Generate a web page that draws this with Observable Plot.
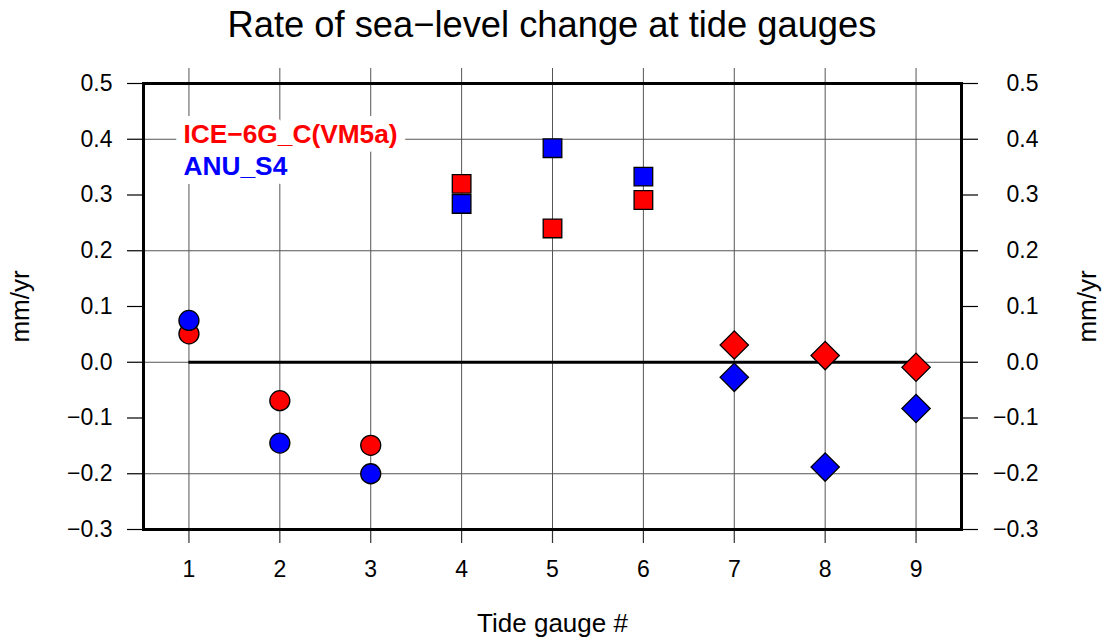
<!DOCTYPE html>
<html><head><meta charset="utf-8">
<script src="https://cdn.jsdelivr.net/npm/d3@7"></script>
<script src="https://cdn.jsdelivr.net/npm/@observablehq/plot@0.6"></script>
<style>
body{margin:0;background:#fff;font-family:"Liberation Sans",Arial,sans-serif;}
#title{height:50px;line-height:50px;text-align:center;font-size:36.3px;width:1104px;color:#000;}
</style></head><body>
<div id="title">Rate of sea−level change at tide gauges</div>
<div id="chart"></div>
<script>
const gauges = [1, 2, 3, 4, 5, 6, 7, 8, 9];
const shapes = ["circle", "circle", "circle", "square", "square", "square", "diamond", "diamond", "diamond"];
const ice6g = [0.051, -0.069, -0.149, 0.32, 0.24, 0.291, 0.031, 0.012, -0.009];
const anuS4 = [0.075, -0.145, -0.2, 0.284, 0.384, 0.333, -0.027, -0.188, -0.083];
const seriesNames = ["ICE−6G_C(VM5a)", "ANU_S4"];
const seriesColors = ["#ff0000", "#0000ff"];
const yTicks = [0.5, 0.4, 0.3, 0.2, 0.1, 0, -0.1, -0.2, -0.3];
const yGrid = [0.4, 0.2, 0, -0.2];
const xLabel = "Tide gauge #";
const yLabel = "mm/yr";

const seriesValues = [ice6g, anuS4];
const rows = seriesValues.flatMap((vals, s) =>
  gauges.map((g, i) => ({gauge: g, value: vals[i], shape: shapes[i], series: s})));

const shapeStyle = {
  circle: {symbol: "circle", r: 10, rotate: 0},
  square: {symbol: "square", r: 10.5, rotate: 0},
  diamond: {symbol: "square", r: 11.3, rotate: 45}
};

const fmt = d3.format(".1f");

const dotMarks = [0, 1].flatMap(s => Object.keys(shapeStyle).map(sh =>
  Plot.dot(rows.filter(d => d.series === s && d.shape === sh), {
    x: "gauge", y: "value",
    symbol: shapeStyle[sh].symbol, r: shapeStyle[sh].r, rotate: shapeStyle[sh].rotate,
    fill: seriesColors[s], stroke: "black", strokeWidth: 1.3
  })));

const chart = Plot.plot({
  width: 1104, height: 592,
  marginTop: 33, marginBottom: 113, marginLeft: 143, marginRight: 143,
  style: {fontFamily: "Liberation Sans, Arial, sans-serif", fontSize: "23px", background: "white", color: "black"},
  x: {domain: [0.5, 9.5], axis: null},
  y: {domain: [-0.3, 0.5], axis: null},
  marks: [
    Plot.ruleY(yGrid, {stroke: "#555", strokeWidth: 1}),
    Plot.ruleX(gauges, {stroke: "#555", strokeWidth: 1}),
    Plot.ruleY([0], {x1: d3.min(gauges), x2: d3.max(gauges), stroke: "black", strokeWidth: 3.2}),
    Plot.axisY(yTicks, {anchor: "left", tickSize: 16, tickPadding: 15, tickFormat: fmt, fontSize: 23, label: null, stroke: "black", strokeWidth: 1.2}),
    Plot.axisY(yTicks, {anchor: "right", tickSize: 16, tickPadding: 61, textAnchor: "end", tickFormat: fmt, fontSize: 23, label: null, stroke: "black", strokeWidth: 1.2}),
    Plot.axisX(gauges, {anchor: "bottom", tickSize: 14, tickPadding: 17, tickFormat: d => String(d), fontSize: 23, label: null, stroke: "#333", strokeWidth: 1.2}),
    Plot.axisX(gauges, {anchor: "top", tickSize: 16, fill: "none", label: null, stroke: "#555", strokeWidth: 1}),
    Plot.text([seriesNames[0]], {frameAnchor: "top-left", dx: 40, dy: 59, lineAnchor: "bottom", textAnchor: "start",
      text: d => d, fill: seriesColors[0], stroke: "white", strokeWidth: 18, strokeLinejoin: "round", fontWeight: "bold", fontSize: 26.3}),
    Plot.text([seriesNames[1]], {frameAnchor: "top-left", dx: 40, dy: 91, lineAnchor: "bottom", textAnchor: "start",
      text: d => d, fill: seriesColors[1], stroke: "white", strokeWidth: 18, strokeLinejoin: "round", fontWeight: "bold", fontSize: 26.3}),
    Plot.frame({stroke: "black", strokeWidth: 3}),
    ...dotMarks,
    Plot.text([xLabel], {frameAnchor: "bottom", dy: 102, lineAnchor: "bottom", textAnchor: "middle", text: d => d, fontSize: 26}),
    Plot.text([yLabel], {frameAnchor: "left", dx: -115, rotate: -90, lineAnchor: "bottom", textAnchor: "middle", text: d => d, fontSize: 26}),
    Plot.text([yLabel], {frameAnchor: "right", dx: 134, rotate: -90, lineAnchor: "bottom", textAnchor: "middle", text: d => d, fontSize: 26})
  ]
});
document.getElementById("chart").appendChild(chart);
</script>
</body></html>
